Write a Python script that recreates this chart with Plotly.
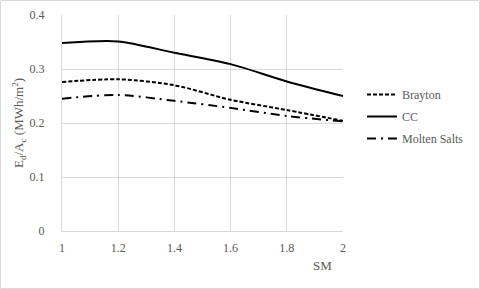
import plotly.graph_objects as go

sm = [1.0, 1.2, 1.4, 1.6, 1.8, 2.0]
brayton = [0.276, 0.281, 0.270, 0.243, 0.224, 0.204]
cc = [0.348, 0.351, 0.330, 0.309, 0.277, 0.250]
molten = [0.245, 0.252, 0.241, 0.228, 0.213, 0.203]

W, H = 480, 289
L, R, T, B = 62, 137, 15, 58
pw, ph = W - L - R, H - T - B
font = "Liberation Serif, Times New Roman, serif"
gray = "#595959"

fig = go.Figure()
fig.add_trace(go.Scatter(x=sm, y=brayton, mode="lines", name="Brayton", legendgroup="a",
                         line=dict(color="black", width=2, dash="4px,2px", shape="spline", smoothing=0.8)))
fig.add_trace(go.Scatter(x=sm, y=cc, mode="lines", name="CC", legendgroup="b",
                         line=dict(color="black", width=2, shape="spline", smoothing=0.8)))
fig.add_trace(go.Scatter(x=sm, y=molten, mode="lines", name="Molten Salts", legendgroup="c",
                         line=dict(color="black", width=2, dash="9px,5px,2px,5px", shape="spline", smoothing=0.8)))

fig.update_layout(
    width=W, height=H,
    margin=dict(l=L, r=R, t=T, b=B, autoexpand=False),
    paper_bgcolor="white", plot_bgcolor="white",
    font=dict(family=font, size=12, color=gray),
    showlegend=True,
    legend=dict(x=(362 - L) / pw, y=(231 - 80) / ph, xanchor="left", yanchor="top",
                font=dict(family=font, size=12, color=gray), itemwidth=30,
                traceorder="grouped", tracegroupgap=3,
                bgcolor="rgba(0,0,0,0)"),
    xaxis=dict(range=[1, 2], tickvals=[1, 1.2, 1.4, 1.6, 1.8, 2], ticktext=["1", "1.2", "1.4", "1.6", "1.8", "2"],
               showgrid=True, gridcolor="#d9d9d9", gridwidth=1, zeroline=False, automargin=False,
               showline=True, linecolor="#d9d9d9", linewidth=1,
               ticks="outside", ticklen=6, tickcolor="rgba(0,0,0,0)",
               tickfont=dict(family=font, size=12, color=gray)),
    yaxis=dict(range=[0, 0.4], tickvals=[0, 0.1, 0.2, 0.3, 0.4], ticktext=["0", "0.1", "0.2", "0.3", "0.4"],
               showgrid=True, gridcolor="#d9d9d9", gridwidth=1, zeroline=False, automargin=False,
               showline=True, linecolor="#d9d9d9", linewidth=1,
               ticks="outside", ticklen=14, tickcolor="rgba(0,0,0,0)",
               tickfont=dict(family=font, size=12, color=gray)),
    annotations=[dict(text="SM", x=(322 - L) / pw, y=-(265 - 231) / ph, xref="paper", yref="paper",
                      xanchor="center", yanchor="middle",
                      showarrow=False, font=dict(family=font, size=13, color=gray)),
                 dict(text="E<sub>d</sub>/A<sub>c</sub> (MWh/m<sup>2</sup>)", textangle=-90,
                      x=(19 - L) / pw, y=0.5, xref="paper", yref="paper",
                      xanchor="center", yanchor="middle",
                      showarrow=False, font=dict(family=font, size=13, color=gray))],
    shapes=[dict(type="rect", xref="paper", yref="paper",
                 x0=(0.5 - L) / pw, x1=(W - 0.5 - L) / pw,
                 y0=-(H - 0.5 - T - ph) / ph, y1=1 + (T - 0.5) / ph,
                 line=dict(color="#d9d9d9", width=1), layer="below")],
)
fig.write_html("out.html", config={"displayModeBar": False},
               post_script="document.body.style.margin='0';document.body.style.padding='0';")
